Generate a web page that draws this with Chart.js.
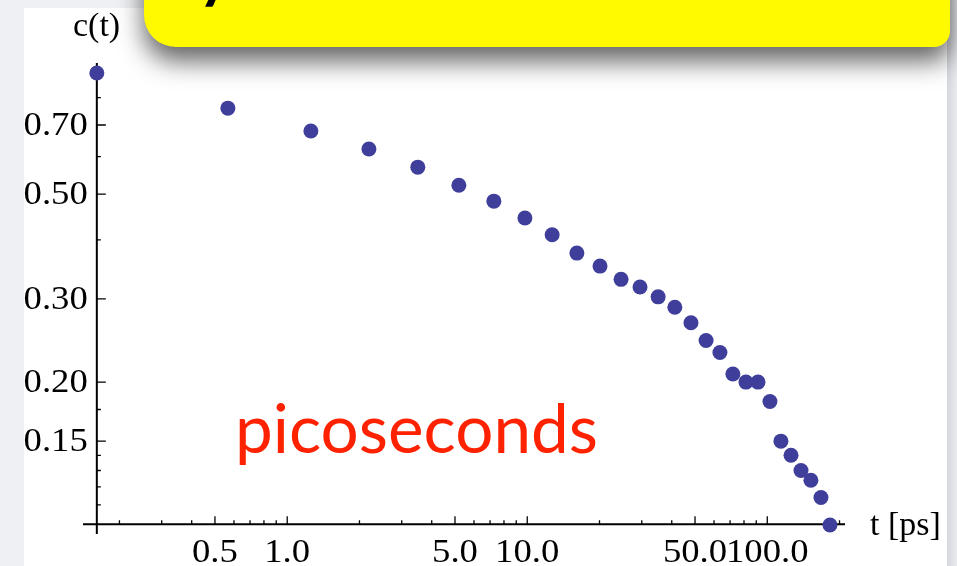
<!DOCTYPE html>
<html>
<head>
<meta charset="utf-8">
<script src="https://cdn.jsdelivr.net/npm/chart.js@4/dist/chart.umd.min.js"></script>
<style>
    body { margin: 0; width: 957px; height: 566px; overflow: hidden; background: #eef0f3; position: relative; }
    #painel { position: absolute; left: 24px; top: 8px; width: 923px; height: 558px; background: #ffffff; }
    #borda { position: absolute; left: 947px; top: 0; width: 10px; height: 566px; background: linear-gradient(to right, #d6d7dd, #e9eaee); }
    #grafico { position: absolute; left: 0; top: 0; }
    #faixa { position: absolute; left: 144px; top: -40px; width: 806px; height: 87px; background: #fffa00;
             border-radius: 0 0 16px 32px; box-shadow: 0 14px 26px rgba(0, 0, 0, 0.62); overflow: hidden; }
    #faixa span { position: absolute; left: 54px; top: -18px; font: bold 62px Lato, sans-serif; line-height: 1; color: #000; }
</style>
</head>
<body>
<div id="painel"></div>
<div id="borda"></div>
<canvas id="grafico" width="957" height="566"></canvas>
<div id="faixa"><span>y</span></div>

<script>
// c(t) decaying with time, log-log
var tempos = [0.161, 0.566, 1.255, 2.19, 3.50, 5.19, 7.26, 9.78, 12.7, 16.1, 20.1, 24.6, 29.5, 35.1,
              41.2, 48.1, 55.6, 63.5, 71.9, 81.5, 91.5, 102.6, 114.0, 125.6, 138.2, 152.0, 167.4, 182.5];
var valoresC = [0.902, 0.760, 0.680, 0.623, 0.570, 0.522, 0.483, 0.445, 0.410, 0.375, 0.352, 0.330, 0.318, 0.303,
                0.288, 0.267, 0.245, 0.231, 0.208, 0.200, 0.200, 0.182, 0.150, 0.140, 0.130, 0.124, 0.114, 0.0997];

var ticksX = [0.5, 1, 5, 10, 50, 100];
var rotulosX = ['0.5', '1.0', '5.0', '10.0', '50.0', '100.0'];
var ticksMenoresX = [0.2, 0.3, 0.4, 0.6, 0.7, 0.8, 0.9, 2, 3, 4, 6, 7, 8, 9, 20, 30, 40, 60, 70, 80, 90, 200];

var ticksY = [0.15, 0.2, 0.3, 0.5, 0.7];
var rotulosY = ['0.15', '0.20', '0.30', '0.50', '0.70'];
var ticksMenoresY = [0.11, 0.12, 0.13, 0.14, 0.175, 0.4, 0.6, 0.8, 0.9];

// onde os eixos se cruzam
var origemX = 0.161;
var origemY = 0.1;

var pontos = [];
for (var i = 0; i < tempos.length; i++) {
    pontos.push({ x: tempos[i], y: valoresC[i] });
}

// texto serifado um pouco mais largo, como nos rótulos originais
function textoLargo(ctx, texto, x, y) {
    ctx.save();
    ctx.translate(x, y);
    ctx.scale(1.08, 1);
    ctx.fillText(texto, 0, 0);
    ctx.restore();
}

// eixos no estilo do Mathematica: cruzando na origem, ticks para dentro
var eixos = {
    id: 'eixos',
    beforeDatasetsDraw: function (chart) {
        var ctx = chart.ctx;
        var area = chart.chartArea;
        var sx = chart.scales.x;
        var sy = chart.scales.y;
        var x0 = sx.getPixelForValue(origemX);
        var y0 = sy.getPixelForValue(origemY);

        ctx.save();
        ctx.strokeStyle = '#000';
        ctx.fillStyle = '#000';

        ctx.lineWidth = 2;
        ctx.beginPath();
        ctx.moveTo(area.left, y0);
        ctx.lineTo(area.right, y0);
        ctx.moveTo(x0, area.top);
        ctx.lineTo(x0, area.bottom);
        ctx.stroke();

        ctx.lineWidth = 1.3;
        ctx.beginPath();
        ticksX.forEach(function (v) {
            var px = sx.getPixelForValue(v);
            ctx.moveTo(px, y0);
            ctx.lineTo(px, y0 - 8);
        });
        ticksMenoresX.forEach(function (v) {
            var px = sx.getPixelForValue(v);
            ctx.moveTo(px, y0);
            ctx.lineTo(px, y0 - 4);
        });
        ticksY.forEach(function (v) {
            var py = sy.getPixelForValue(v);
            ctx.moveTo(x0, py);
            ctx.lineTo(x0 + 9, py);
        });
        ticksMenoresY.forEach(function (v) {
            var py = sy.getPixelForValue(v);
            ctx.moveTo(x0, py);
            ctx.lineTo(x0 + 4, py);
        });
        ctx.stroke();

        ctx.font = '34px "Liberation Serif", serif';
        ctx.textAlign = 'center';
        ctx.textBaseline = 'alphabetic';
        ticksX.forEach(function (v, i) {
            textoLargo(ctx, rotulosX[i], sx.getPixelForValue(v), 562);
        });
        ctx.textAlign = 'right';
        ctx.textBaseline = 'middle';
        ticksY.forEach(function (v, i) {
            textoLargo(ctx, rotulosY[i], x0 - 9, sy.getPixelForValue(v) + 1);
        });

        ctx.textAlign = 'left';
        ctx.textBaseline = 'alphabetic';
        ctx.fillText('c(t)', 73, 36);
        ctx.fillText('t [ps]', 870, 535);

        ctx.fillStyle = '#ff2200';
        ctx.font = '68px Lato, sans-serif';
        ctx.fillText('picoseconds', 235, 453, 363);
        ctx.restore();
    }
};

var ctx = document.getElementById('grafico').getContext('2d');
new Chart(ctx, {
    type: 'scatter',
    data: {
        datasets: [{
            data: pontos,
            backgroundColor: '#3f3f9b',
            borderWidth: 0,
            pointRadius: 7.5,
            pointHoverRadius: 7.5,
            clip: false
        }]
    },
    options: {
        responsive: false,
        animation: false,
        devicePixelRatio: 1,
        layout: {
            padding: { left: 83, right: 112, top: 63, bottom: 32 }
        },
        scales: {
            x: { type: 'logarithmic', min: 0.141, max: 210.8, display: false },
            y: { type: 'logarithmic', min: 0.0954, max: 0.947, display: false }
        },
        plugins: {
            legend: { display: false },
            tooltip: { enabled: false }
        }
    },
    plugins: [eixos]
});
</script>
</body>
</html>
